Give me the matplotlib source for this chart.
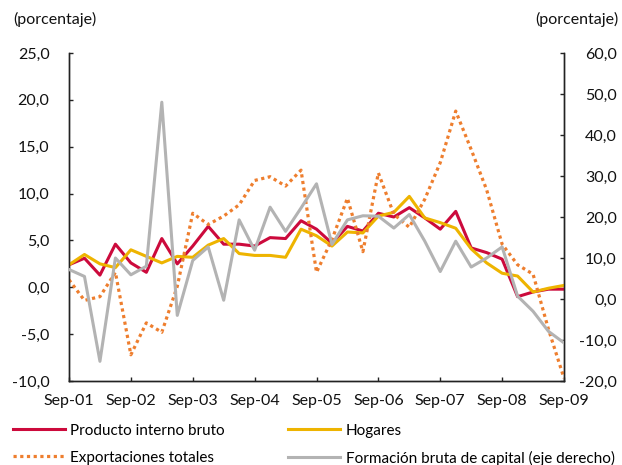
import matplotlib
matplotlib.use("Agg")
import matplotlib.pyplot as plt
from matplotlib.ticker import FixedLocator, FuncFormatter

plt.rcParams['font.family'] = ['Lato', 'DejaVu Sans']

year_labels = ['Sep-01', 'Sep-02', 'Sep-03', 'Sep-04', 'Sep-05',
               'Sep-06', 'Sep-07', 'Sep-08', 'Sep-09']

pib = [2.4, 3.1, 1.3, 4.6, 2.6, 1.6, 5.2, 2.5, 4.4, 6.5, 4.6, 4.6, 4.4, 5.3, 5.2, 7.1,
       6.2, 4.7, 6.5, 6.0, 7.9, 7.5, 8.5, 7.4, 6.2, 8.1, 4.2, 3.7, 3.0, -1.0, -0.5, -0.2, -0.2]
hogares = [2.4, 3.5, 2.5, 2.1, 4.0, 3.3, 2.6, 3.3, 3.2, 4.5, 5.2, 3.6, 3.4, 3.4, 3.2, 6.2,
           5.5, 4.4, 5.9, 5.8, 7.6, 8.0, 9.7, 7.4, 6.9, 6.3, 4.1, 2.6, 1.5, 1.2, -0.5, -0.1, 0.2]
exportaciones = [0.8, -1.4, -1.0, 1.6, -7.2, -3.8, -4.8, 0.1, 7.9, 6.7, 7.6, 8.8, 11.4, 11.8, 10.8, 12.5,
                 1.6, 5.1, 9.5, 3.8, 12.2, 7.8, 6.4, 9.4, 13.3, 18.8, 14.7, 10.4, 4.6, 2.4, 1.4, -4.5, -9.7]
fbk = [7.2, 5.5, -15.2, 10.0, 5.9, 8.0, 48.0, -4.0, 9.4, 12.7, -0.3, 19.3, 11.9, 22.4, 16.5, 22.2,
       28.1, 13.3, 19.3, 20.3, 20.2, 17.3, 20.6, 14.1, 6.7, 14.1, 7.8, 10.0, 12.7, 0.7, -3.0, -7.9, -10.7]

names = ['Producto interno bruto', 'Hogares', 'Exportaciones totales',
         'Formación bruta de capital (eje derecho)']

RED = '#CC0A3C'
YEL = '#EEB400'
ORA = '#EE7E2E'
GRY = '#B3B3B3'

FS = 11.5
LFS = 11
W, H = 622, 465
fig = plt.figure(figsize=(W / 100, H / 100), dpi=100)
ax = fig.add_axes([69 / W, (H - 381) / H, (564 - 69) / W, (381 - 53) / H])
ax2 = ax.twinx()

x = list(range(len(pib)))
l_pib, = ax.plot(x, pib, color=RED, lw=2.2, zorder=3)
l_hog, = ax.plot(x, hogares, color=YEL, lw=2.2, zorder=3)
l_exp, = ax.plot(x, exportaciones, color=ORA, lw=2.3, linestyle=(0, (1, 1.1)),
                 dash_capstyle='butt', zorder=4)
l_fbk, = ax2.plot(x, fbk, color=GRY, lw=2.2, zorder=3)

ax.set_xlim(0, len(pib) - 1)
ax.set_ylim(-10, 25)
ax2.set_ylim(-20, 60)

fmt = FuncFormatter(lambda v, p: f"{v:.1f}".replace('.', ','))
ax.yaxis.set_major_locator(FixedLocator([-10, -5, 0, 5, 10, 15, 20, 25]))
ax2.yaxis.set_major_locator(FixedLocator([-20, -10, 0, 10, 20, 30, 40, 50, 60]))
ax.yaxis.set_major_formatter(fmt)
ax2.yaxis.set_major_formatter(fmt)
ax.set_xticks(range(0, len(pib), 4))
ax.set_xticklabels(year_labels)

for a in (ax, ax2):
    a.spines['top'].set_visible(False)
    for s in a.spines.values():
        s.set_linewidth(1.0)
        s.set_color('#222222')
    a.tick_params(direction='in', length=3, width=1, color='#222222',
                  labelsize=FS, labelcolor='#111111')
ax.tick_params(axis='y', pad=14)
ax.tick_params(axis='x', pad=9)
ax2.tick_params(axis='y', pad=38)
for t in ax2.get_yticklabels():
    t.set_ha('right')

fig.text(13 / W, 1 - 19 / H, '(porcentaje)', fontsize=FS, ha='left', va='center', color='#111111')
fig.text(618 / W, 1 - 19 / H, '(porcentaje)', fontsize=FS, ha='right', va='center', color='#111111')

fig.legend([l_pib, l_exp, l_hog, l_fbk],
           [names[0], names[2], names[1], names[3]],
           ncol=2, loc='upper left', bbox_to_anchor=(8 / W, 1 - 419 / H),
           frameon=False, fontsize=LFS, handlelength=3.4, handletextpad=0.39,
           columnspacing=4.1, labelspacing=0.85, borderaxespad=0, borderpad=0.3)

fig.savefig('out.png', dpi=100)
